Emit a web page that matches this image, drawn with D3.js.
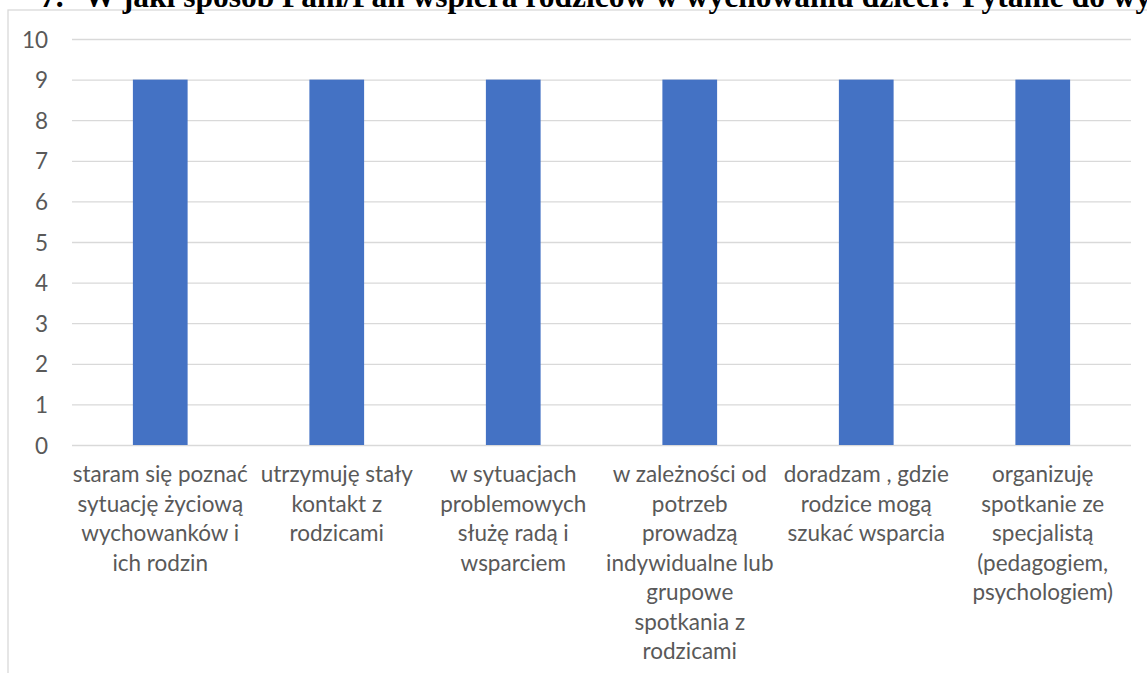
<!DOCTYPE html>
<html>
<head>
<meta charset="utf-8">
<script src="https://cdn.jsdelivr.net/npm/d3@7"></script>
<style>
  body { margin: 0; background: #fff; }
  svg { display: block; }
  .axis text { fill: #595959; font-family: Lato, "Noto Sans", sans-serif; font-size: 22.5px; }
  .axis line { stroke: #d9d9d9; stroke-width: 1.3; }
  .cat { fill: #595959; font-family: Lato, "Noto Sans", sans-serif; font-size: 22.5px; }
</style>
</head>
<body>
<div id="chart"></div>
<script>
const titleNumber = '7.';
const titleText = 'W jaki sposób Pani/Pan wspiera rodziców w wychowaniu dzieci? Pytanie do wychowawców';
const categories = [
  'staram się poznać\nsytuację życiową\nwychowanków i\nich rodzin',
  'utrzymuję stały\nkontakt z\nrodzicami',
  'w sytuacjach\nproblemowych\nsłużę radą i\nwsparciem',
  'w zależności od\npotrzeb\nprowadzą\nindywidualne lub\ngrupowe\nspotkania z\nrodzicami',
  'doradzam , gdzie\nrodzice mogą\nszukać wsparcia',
  'organizuję\nspotkanie ze\nspecjalistą\n(pedagogiem,\npsychologiem)'
];
const values = [9, 9, 9, 9, 9, 9];
const yTicks = [0, 1, 2, 3, 4, 5, 6, 7, 8, 9, 10];

const W = 1147, H = 673;
const plot = { left: 72, right: 1131, top: 39, bottom: 445 };

const svg = d3.select('#chart').append('svg').attr('width', W).attr('height', H);

// chart frame (continues past the picture edges)
svg.append('rect').attr('x', 8).attr('y', 10).attr('width', W + 20).attr('height', H + 20)
  .attr('fill', '#fff').attr('stroke', '#d9d9d9').attr('stroke-width', 1.3);

// cropped document heading above the chart
const title = svg.append('text').attr('y', 7)
  .attr('font-family', '"Liberation Serif", "Times New Roman", serif')
  .attr('font-weight', 'bold').attr('font-size', '31.5px').attr('fill', '#000');
title.append('tspan').attr('x', 40).text(titleNumber);
title.append('tspan').attr('x', 84).text(titleText);

const x = d3.scaleBand().domain(categories).range([plot.left, plot.right])
  .paddingInner(0.69).paddingOuter(0.345);
const y = d3.scaleLinear().domain([0, 10]).range([plot.bottom, plot.top]);

const yAxis = svg.append('g').attr('class', 'axis').attr('transform', `translate(${plot.left},0)`)
  .call(d3.axisLeft(y).tickValues(yTicks).tickSize(-(plot.right - plot.left)).tickPadding(24));
yAxis.select('.domain').remove();
yAxis.selectAll('text').attr('dy', '0.36em');

svg.selectAll('.bar').data(values).enter().append('rect')
  .attr('class', 'bar')
  .attr('x', (_, i) => x(categories[i]))
  .attr('width', x.bandwidth())
  .attr('y', d => y(d))
  .attr('height', d => y(0) - y(d))
  .attr('fill', '#4472c4');

const lineH = 29.5;
const labels = svg.append('g');
categories.forEach(c => {
  const cx = x(c) + x.bandwidth() / 2;
  const t = labels.append('text').attr('class', 'cat').attr('text-anchor', 'middle')
    .attr('x', cx).attr('y', 482);
  c.split('\n').forEach((line, j) => {
    t.append('tspan').attr('x', cx).attr('y', 482 + j * lineH).text(line);
  });
});
</script>
</body>
</html>
